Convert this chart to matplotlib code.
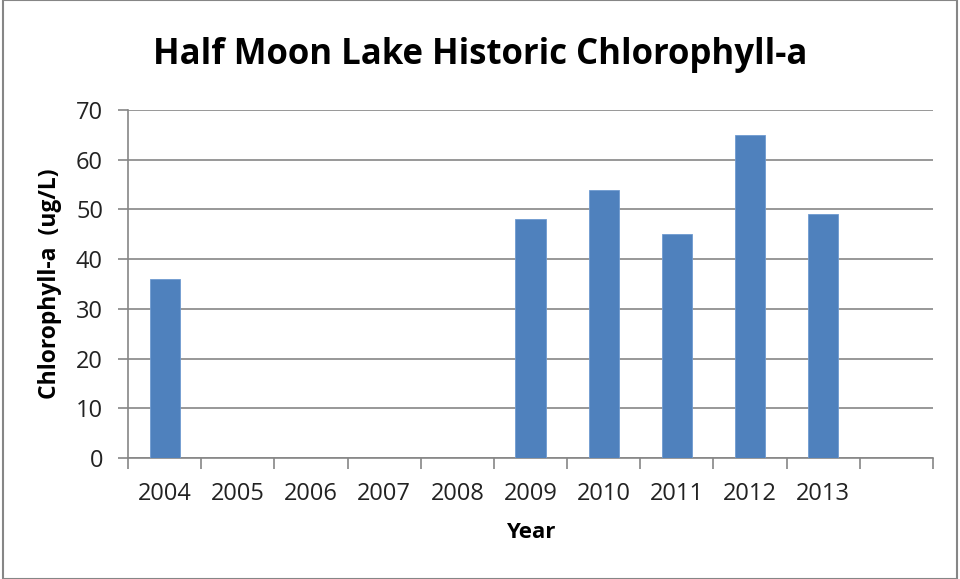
import matplotlib
matplotlib.use('Agg')
import matplotlib.pyplot as plt
from matplotlib.patches import Rectangle

years = ['2004', '2005', '2006', '2007', '2008', '2009', '2010', '2011', '2012', '2013', '']
chla = [36, 0, 0, 0, 0, 48, 54, 45, 65, 49, 0]

plt.rcParams['font.family'] = ['Open Sans', 'DejaVu Sans']

fig = plt.figure(figsize=(9.6, 5.79), dpi=100)
ax = fig.add_axes([128 / 960, 1 - 458 / 579, (933 - 128) / 960, (458 - 110) / 579])

x = list(range(len(years)))
ax.bar(x, chla, width=0.41, color='#4f81bd', edgecolor='#6f9bd1', linewidth=0.6, zorder=3)

ax.set_xlim(-0.5, len(years) - 0.5)
ax.set_ylim(0, 70)
ax.set_yticks(range(0, 71, 10))
ax.set_xticks(x)
ax.set_xticklabels(years)
ax.set_xticks([i - 0.5 for i in range(len(years) + 1)], minor=True)
ax.tick_params(axis='x', which='major', length=0, pad=17, labelsize=17)
ax.tick_params(axis='x', which='minor', length=8, color='#868686', width=1.2)
ax.tick_params(axis='y', length=7, color='#868686', width=1.2, labelsize=17, pad=11)
for lab in ax.get_yticklabels() + ax.get_xticklabels():
    lab.set_color('#222222')

ax.grid(axis='y', color='#868686', linewidth=1.2, zorder=0)
for s in ['top', 'right']:
    ax.spines[s].set_visible(False)
for s in ['left', 'bottom']:
    ax.spines[s].set_color('#868686')
    ax.spines[s].set_linewidth(1.2)

ax.set_xlabel('Year', fontsize=16, fontweight='bold')
ax.set_ylabel('Chlorophyll-a  (ug/L)', fontsize=16.5, fontweight='bold')
ax.xaxis.set_label_coords(0.5, -(533 - 458) / 348)
ax.yaxis.set_label_coords(-(128 - 50) / 805, 0.5)
ax.xaxis.label.set_va('center')
ax.yaxis.label.set_va('center')
fig.text(0.5, 1 - 55 / 579, 'Half Moon Lake Historic Chlorophyll-a', ha='center', va='center',
         fontsize=25, fontweight='bold')

fig.patches.append(Rectangle((3 / 960, 0), 1 - 6 / 960, 1, transform=fig.transFigure,
                             fill=False, edgecolor='#868686', linewidth=1.5))

fig.savefig('out.png', dpi=100)
